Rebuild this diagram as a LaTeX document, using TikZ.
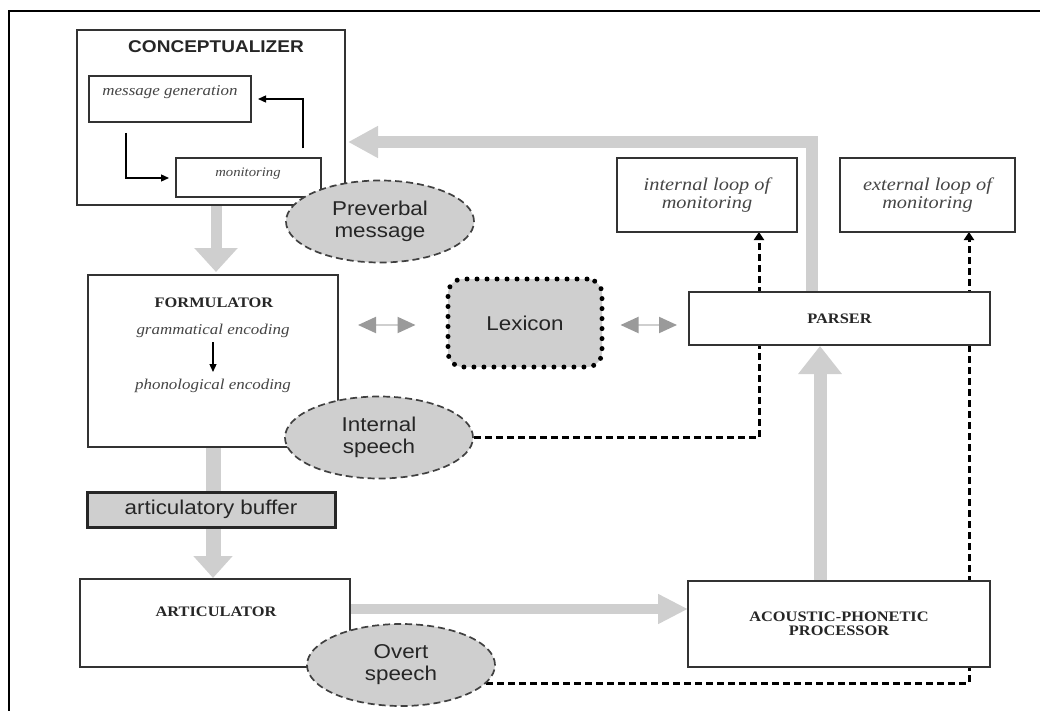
\documentclass[tikz,border=0pt]{standalone}
\usepackage{fontspec}
\setmainfont{Liberation Serif}[FakeStretch=1.13]
\setsansfont{Liberation Sans}[FakeStretch=1.12]
\usetikzlibrary{arrows.meta,shapes.geometric,calc,backgrounds}
\definecolor{boxline}{HTML}{333333}
\definecolor{fillg}{HTML}{CFCFCF}
\definecolor{tipg}{HTML}{9A9A9A}
\definecolor{txtg}{HTML}{454545}
\definecolor{txtd}{HTML}{262626}
\tikzset{
  box/.style={draw=boxline, line width=2pt, fill=white, inner sep=0pt, outer sep=0pt},
  ell/.style={ellipse, draw=black!75, dash pattern=on 7pt off 4pt, line width=1.7pt, fill=fillg,
    minimum width=188pt, minimum height=82pt, inner sep=0pt, align=center,
    font=\sffamily\fontsize{20}{22}\selectfont, text=txtd},
  caps/.style={font=\bfseries\fontsize{14.5}{16}\selectfont, text=txtd, align=center, inner sep=1pt},
  ital/.style={font=\itshape\fontsize{15}{18}\selectfont, text=txtg, inner sep=1pt},
  loopital/.style={font=\itshape\fontsize{18}{18}\selectfont, text=txtg, align=center},
  sanstxt/.style={font=\sffamily\fontsize{20}{22}\selectfont, text=txtd},
  garrow/.style={draw=fillg, line join=miter},
  dconn/.style={draw=black, line width=3pt, dash pattern=on 7pt off 4pt,
    -{Triangle[width=10pt,length=8pt]}},
  thinarrow/.style={draw=black, line width=1.3pt, -{Triangle[width=7pt,length=8pt]}},
  lexarrow/.style={draw=fillg, line width=2pt,
    {Triangle[width=16pt,length=18pt,color=tipg]}-{Triangle[width=16pt,length=18pt,color=tipg]}}
}
\begin{document}
\begin{tikzpicture}[x=1pt,y=-1pt]
\useasboundingbox (0,0) rectangle (1040,711);
% outer frame
\draw[line width=2pt, black] (9,711) -- (9,11) -- (1040,11);

% helper coordinates
\coordinate (lx) at (216,0);
\coordinate (lx2) at (213,0);
\coordinate (turn) at (812,142);
\coordinate (ax) at (820,0);
\coordinate (ay) at (0,609);
\coordinate (lexy) at (0,325);
\coordinate (ix) at (759,0);
\coordinate (ex) at (969,0);
\coordinate (c1) at (126,0);
\coordinate (c2) at (303,0);

% boxes
\node[box, minimum width=268pt, minimum height=175pt] (conc) at (211,117.5) {};
\node[font=\sffamily\bfseries\fontsize{17}{20}\selectfont, text=txtd] (conctitle) at (216,47) {CONCEPTUALIZER};
\node[box, minimum width=162pt, minimum height=46pt] (msg) at (170,99) {};
\node[ital] (msgtxt) at (170,92) {message generation};
\node[box, minimum width=145pt, minimum height=39pt] (mon) at (248.5,178) {};
\node[ital, font=\itshape\fontsize{13}{15}\selectfont] (montxt) at (248,174) {monitoring};

\node[box, minimum width=250pt, minimum height=172pt] (form) at (213,361) {};
\node[caps] (formtitle) at (214,303) {FORMULATOR};
\node[ital] (gram) at (213,331) {grammatical encoding};
\node[ital] (phon) at (213,386) {phonological encoding};

\node[draw=black!85, line width=3pt, fill=fillg, minimum width=248pt, minimum height=35pt,
  inner sep=0pt, sanstxt] (buf) at (211,509.5) {articulatory buffer};

\node[box, minimum width=270pt, minimum height=88pt] (artic) at (215,623) {};
\node[caps] (artictxt) at (216,612) {ARTICULATOR};

\node[box, minimum width=302pt, minimum height=86pt] (acou) at (839,624) {};
\node[caps, font=\bfseries\fontsize{14.5}{14.5}\selectfont] (acoutxt) at (839,624) {ACOUSTIC-PHONETIC\\PROCESSOR};

\node[box, minimum width=301pt, minimum height=53pt, caps] (parser) at (839.5,318.5) {PARSER};

\node[box, minimum width=180pt, minimum height=74pt, loopital] (intloop) at (707,195) {internal loop of\\monitoring};
\node[box, minimum width=175pt, minimum height=74pt, loopital] (extloop) at (927.5,195) {external loop of\\monitoring};

\node[rectangle, rounded corners=15pt, draw=black, fill=fillg, line width=5pt,
  dash pattern=on 0pt off 10pt, line cap=round, minimum width=154pt, minimum height=88pt,
  sanstxt] (lex) at (525,323) {Lexicon};

% ellipses
\node[ell] (prev) at (380,221.5) {Preverbal\\message};
\node[ell] (internal) at (379,437.5) {Internal\\speech};
\node[ell] (overt) at (401,665) {Overt\\speech};

% connectors behind the boxes
\begin{scope}[on background layer]
  \draw[garrow, line width=12pt, -{Triangle[width=30pt,length=30pt]}, shorten >=3pt]
    (parser.north -| turn) -- (turn) -- (conc.east |- turn);
  \draw[garrow, line width=11pt, -{Triangle[width=42pt,length=24pt]}, shorten >=3pt]
    (conc.south -| lx) -- (form.north -| lx);
  \draw[garrow, line width=15pt] (form.south -| lx2) -- (buf.north -| lx2);
  \draw[garrow, line width=15pt, -{Triangle[width=38pt,length=22pt]}, shorten >=1pt]
    (buf.south -| lx2) -- (artic.north -| lx2);
  \draw[garrow, line width=10pt, -{Triangle[width=28pt,length=30pt]}]
    (artic.east |- ay) -- (acou.west |- ay);
  \draw[garrow, line width=13pt, -{Triangle[width=42pt,length=28pt]}, shorten >=1pt]
    (acou.north -| ax) -- (parser.south -| ax);
  \draw[dconn] (internal.east) -| (intloop.south -| ix);
  \draw[dconn] (overt.-12) -| (extloop.south -| ex);
\end{scope}

% Lexicon double arrows
\draw[lexarrow, shorten <=20pt, shorten >=30pt] (form.east |- lexy) -- (lex.west |- lexy);
\draw[lexarrow, shorten <=16pt, shorten >=12pt] (lex.east |- lexy) -- (parser.west |- lexy);

% conceptualizer internal arrows
\draw[thinarrow, shorten <=11pt, shorten >=7pt] (msg.south -| c1) -- (c1 |- mon.west) -- (mon.west);
\draw[thinarrow, shorten <=10pt, shorten >=7pt] (mon.north -| c2) -- (c2 |- msg.east) -- (msg.east);
% formulator internal arrow
\draw[thinarrow, shorten <=3pt, shorten >=6pt] (gram.south) -- (phon.north);
\end{tikzpicture}
\end{document}
